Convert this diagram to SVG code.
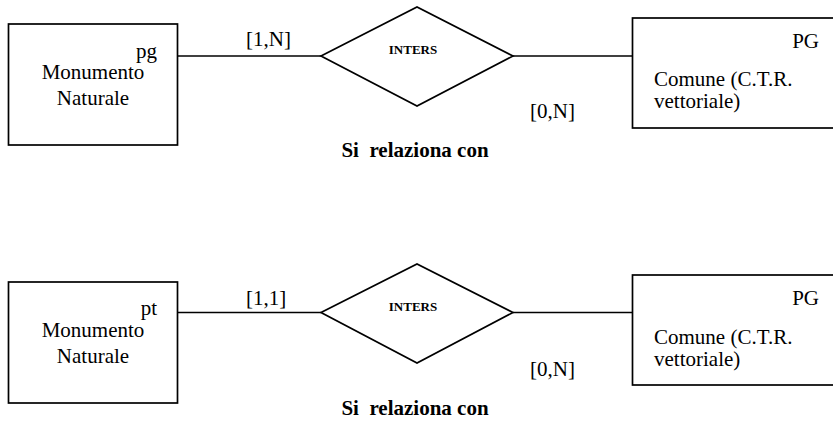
<svg xmlns="http://www.w3.org/2000/svg" width="833" height="421" viewBox="0 0 833 421" font-family="Liberation Serif, Times New Roman, serif">
<style>
.shape{fill:#fff;stroke:#000;stroke-width:1.7}
.line{stroke:#000;stroke-width:1.7;fill:none}
.t{font-size:21px;fill:#000}
.b{font-weight:bold;fill:#000;white-space:pre}
</style>
<rect width="833" height="421" fill="#fff"/>
<g id="connectors">
<line class="line" x1="177.5" y1="56" x2="321" y2="56"/>
<line class="line" x1="513" y1="56" x2="632.5" y2="56"/>
<line class="line" x1="177.5" y1="312.5" x2="321" y2="312.5"/>
<line class="line" x1="513" y1="312.5" x2="632.5" y2="312.5"/>
<text class="t" x="246" y="46">[1,N]</text>
<text class="t" x="530" y="118">[0,N]</text>
<text class="t" x="246" y="305">[1,1]</text>
<text class="t" x="530" y="376">[0,N]</text>
</g>
<g id="monumento1">
<rect class="shape" x="8.5" y="24" width="169" height="121"/>
<text class="t" x="157" y="58" text-anchor="end">pg</text>
<text class="t" x="93" y="79" text-anchor="middle">Monumento</text>
<text class="t" x="93" y="105" text-anchor="middle">Naturale</text>
</g>
<g id="inters1">
<polygon class="shape" points="321,56 417,7 513,56 417,106"/>
<text class="b" x="413" y="54" font-size="13" text-anchor="middle">INTERS</text>
<text class="b" x="415" y="157" font-size="21" text-anchor="middle" xml:space="preserve">Si  relaziona con</text>
</g>
<g id="comune1">
<rect class="shape" x="632.5" y="18" width="210" height="110"/>
<text class="t" x="819" y="48" text-anchor="end">PG</text>
<text class="t" x="654" y="86">Comune (C.T.R.</text>
<text class="t" x="654" y="108">vettoriale)</text>
</g>
<g id="monumento2">
<rect class="shape" x="8.5" y="282" width="169" height="121"/>
<text class="t" x="157" y="315" text-anchor="end">pt</text>
<text class="t" x="93" y="337" text-anchor="middle">Monumento</text>
<text class="t" x="93" y="363" text-anchor="middle">Naturale</text>
</g>
<g id="inters2">
<polygon class="shape" points="321,312.5 417,264 513,312.5 417,363"/>
<text class="b" x="413" y="311" font-size="13" text-anchor="middle">INTERS</text>
<text class="b" x="415" y="415" font-size="21" text-anchor="middle" xml:space="preserve">Si  relaziona con</text>
</g>
<g id="comune2">
<rect class="shape" x="632.5" y="275" width="210" height="110"/>
<text class="t" x="819" y="305" text-anchor="end">PG</text>
<text class="t" x="654" y="344">Comune (C.T.R.</text>
<text class="t" x="654" y="366">vettoriale)</text>
</g>
</svg>
